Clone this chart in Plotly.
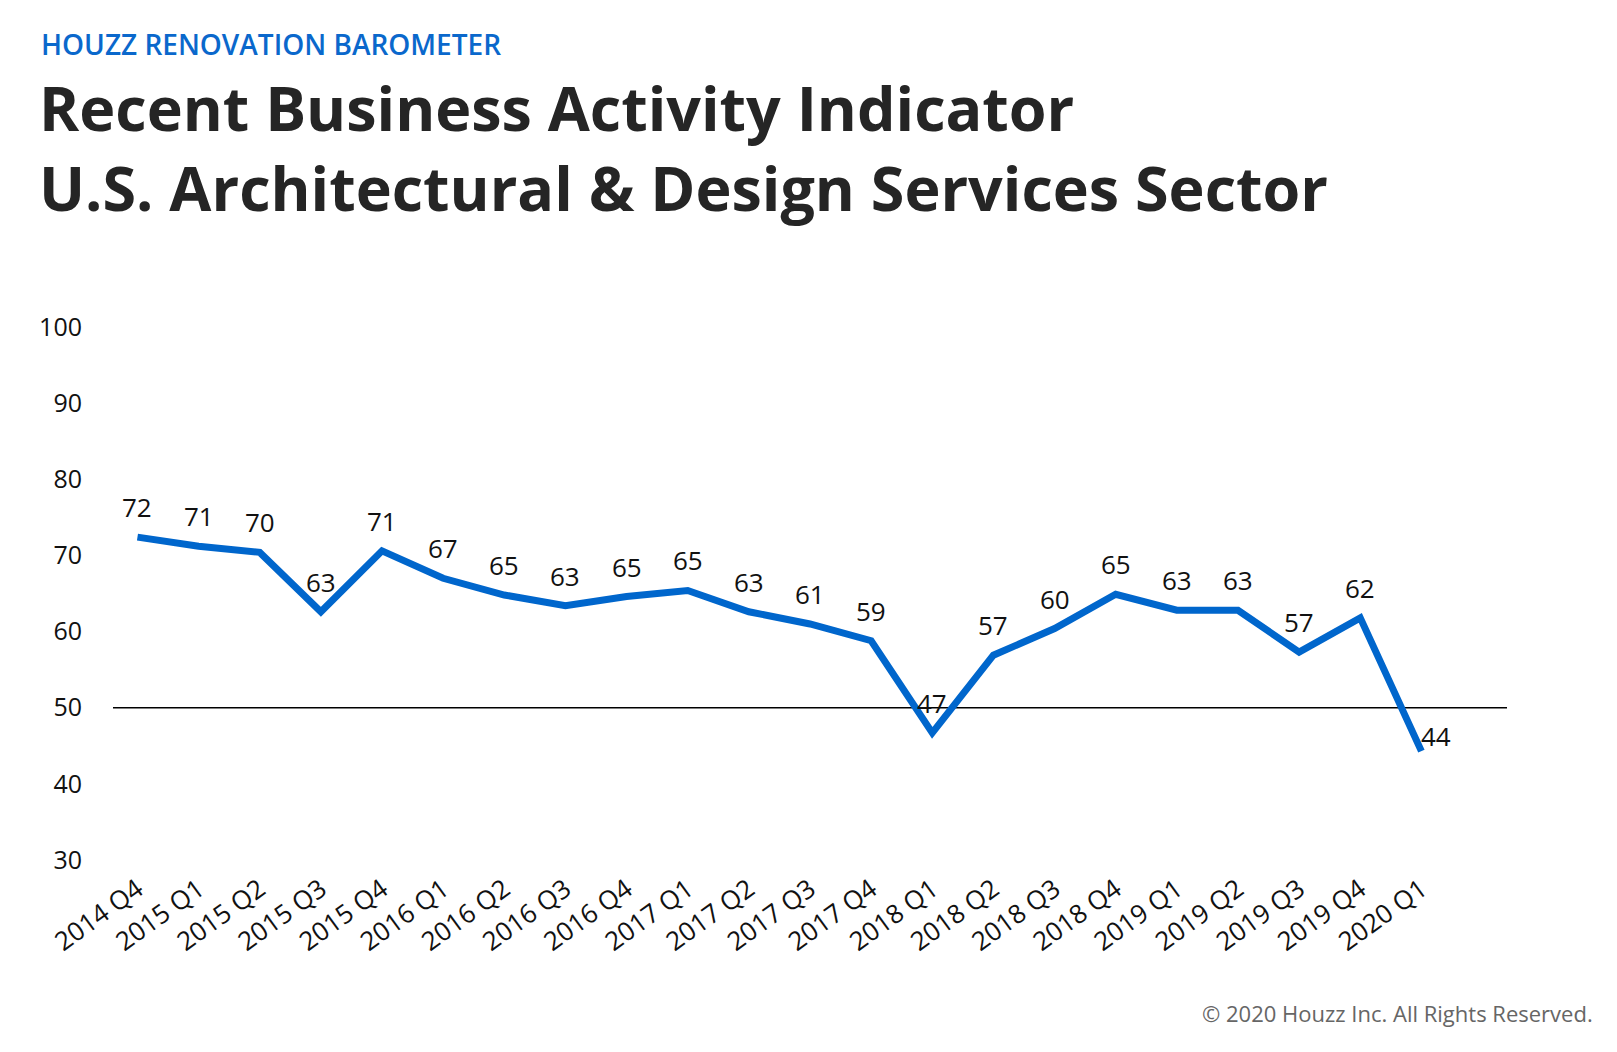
import plotly.graph_objects as go

quarters = ["2014 Q4", "2015 Q1", "2015 Q2", "2015 Q3", "2015 Q4", "2016 Q1", "2016 Q2",
            "2016 Q3", "2016 Q4", "2017 Q1", "2017 Q2", "2017 Q3", "2017 Q4", "2018 Q1",
            "2018 Q2", "2018 Q3", "2018 Q4", "2019 Q1", "2019 Q2", "2019 Q3", "2019 Q4",
            "2020 Q1"]
index_values = [72.4, 71.2, 70.4, 62.6, 70.6, 67.0, 64.8, 63.4, 64.6, 65.4, 62.6, 61.0,
                58.8, 46.7, 56.9, 60.4, 64.9, 62.8, 62.8, 57.3, 61.8, 44.3]
value_labels = ["72", "71", "70", "63", "71", "67", "65", "63", "65", "65", "63", "61",
                "59", "47", "57", "60", "65", "63", "63", "57", "62", "44"]
y_ticks = [30, 40, 50, 60, 70, 80, 90, 100]

BLUE = "#0066cc"
FONT = "Open Sans"

fig = go.Figure()
fig.add_trace(go.Scatter(
    x=quarters, y=index_values, mode="lines",
    line=dict(color=BLUE, width=7),
    showlegend=False, hoverinfo="x+y",
))

# 50 = neutral line
fig.add_shape(type="line", xref="paper", x0=0, x1=1, yref="y", y0=50, y1=50,
              line=dict(color="#000000", width=1.5), layer="below")

# data labels above each point, last one nudged to the right
for i, (q, v, lab) in enumerate(zip(quarters, index_values, value_labels)):
    last = i == len(quarters) - 1
    fig.add_annotation(x=q, y=v, text=lab, showarrow=False,
                       xshift=15 if last else 0, yshift=15 if last else 30,
                       font=dict(family=FONT, size=26, color="#111111"))

fig.add_annotation(xref="paper", yref="paper", x=0, y=1.0, xshift=-74, yshift=283,
                   xanchor="left", yanchor="middle", text="HOUZZ RENOVATION BAROMETER",
                   showarrow=False,
                   font=dict(family=FONT, size=28, color="#0a68cc", weight=600))
fig.add_annotation(xref="paper", yref="paper", x=0, y=1.0, xshift=-76, yshift=220,
                   xanchor="left", yanchor="middle",
                   text="<b>Recent Business Activity Indicator</b>",
                   showarrow=False, font=dict(family=FONT, size=61, color="#252525"))
fig.add_annotation(xref="paper", yref="paper", x=0, y=1.0, xshift=-76, yshift=140,
                   xanchor="left", yanchor="middle",
                   text="<b>U.S. Architectural &amp; Design Services Sector</b>",
                   showarrow=False, font=dict(family=FONT, size=61, color="#252525"))
fig.add_annotation(xref="paper", yref="paper", x=1, y=0, xshift=88, yshift=-153,
                   xanchor="right", yanchor="middle",
                   text="© 2020 Houzz Inc. All Rights Reserved.",
                   showarrow=False, font=dict(family=FONT, size=22, color="#666666"))

fig.update_layout(
    width=1617, height=1052,
    margin=dict(l=105, r=118, t=319, b=200),
    plot_bgcolor="white", paper_bgcolor="white",
    font=dict(family=FONT, color="#111111"),
    xaxis=dict(type="category", range=[-0.4, 22.4], showgrid=False, zeroline=False,
               showline=False, tickangle=-36, tickfont=dict(size=26, color="#111111"),
               ticks="", ticklabelstandoff=8),
    yaxis=dict(range=[30, 100], tickvals=y_ticks, showgrid=False, zeroline=False,
               showline=False, tickfont=dict(size=25, color="#111111"),
               ticklabelstandoff=30),
)

fig.write_html("out.html")
